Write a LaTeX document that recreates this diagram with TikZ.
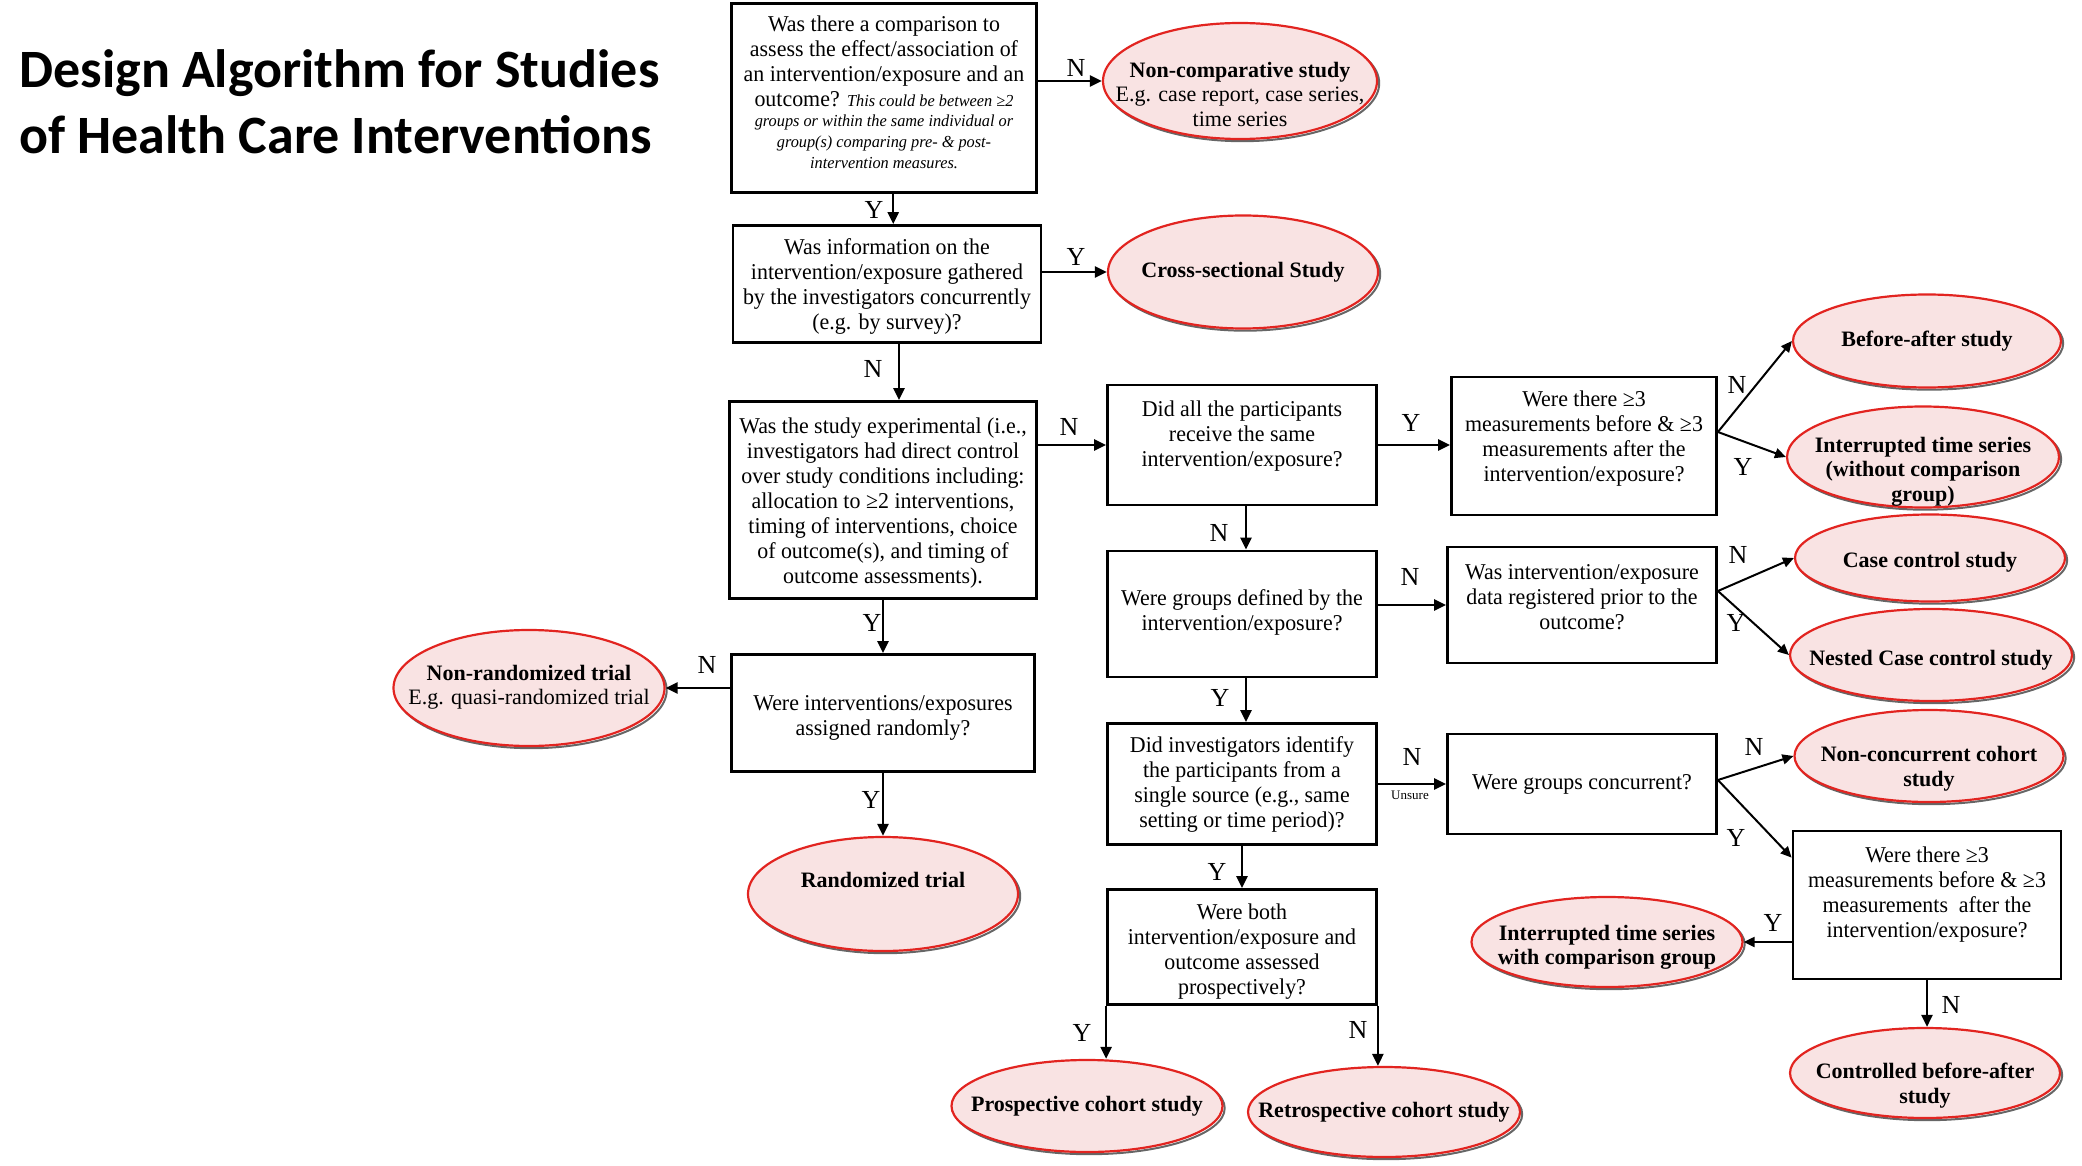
\documentclass[tikz,border=0pt]{standalone}
\usepackage{fontspec}
\setmainfont{Liberation Serif}
\newfontfamily\boxfont[FakeStretch=0.97]{Liberation Serif}
\newfontfamily\titlefont{Carlito}
\usetikzlibrary{shapes.geometric,shadows,arrows.meta}
\definecolor{ovalfill}{HTML}{F9E3E3}
\definecolor{ovalred}{HTML}{E22420}
\begin{document}
\begin{tikzpicture}[x=0.5pt,y=-0.5pt,
  qbox/.style={draw,line width=1.4pt,inner sep=0pt},
  qtext/.style={align=center,inner sep=0pt,font=\boxfont\fontsize{11.3}{12.5}\selectfont},
  oval/.style={ellipse,draw=ovalred,line width=1.1pt,fill=ovalfill,inner sep=0pt,
    drop shadow={shadow xshift=1.1pt,shadow yshift=-1.1pt,fill=none,
      draw=black!60,line width=1pt,opacity=1}},
  ovaltext/.style={align=center,inner sep=0pt,font=\fontsize{11}{12.3}\selectfont\bfseries},
  yn/.style={inner sep=0pt,font=\fontsize{13}{13}\selectfont},
  arr/.style={-{Triangle[length=6pt,width=5.5pt]},line width=1.2pt},
  thinarr/.style={-{Triangle[length=5.5pt,width=5pt]},line width=1pt}]
  \useasboundingbox (0,0) rectangle (2082,1166);
  % title
  \path (19,102) node[anchor=west,align=left,inner sep=0pt,
    font=\titlefont\bfseries\fontsize{27}{33}\selectfont] (title)
    {Design Algorithm for Studies\\of Health Care Interventions};
  % questions
  \path (884,98) node[qbox,minimum width=152.5pt,minimum height=94.5pt] (q1) {}
    node[qtext,yshift=3pt] (q1t)
    {Was there a comparison to\\ assess the effect/association of\\
     an intervention/exposure and an\\
     outcome? {\itshape\fontsize{8.4}{10}\selectfont This could be between ≥2}\\[-2.2pt]
     {\itshape\fontsize{8.4}{10}\selectfont groups or within the same individual or}\\[-2.2pt]
     {\itshape\fontsize{8.4}{10}\selectfont group(s) comparing pre- \& post-}\\[-2.2pt]
     {\itshape\fontsize{8.4}{10}\selectfont intervention measures.}};
  \path (887,284) node[qbox,minimum width=154pt,minimum height=58.5pt] (q2) {}
    node[qtext,yshift=-1.3pt] (q2t)
    {Was information on the\\ intervention/exposure gathered\\
     by the investigators concurrently\\ (e.g. by survey)?};
  \path (883,500) node[qbox,minimum width=153.5pt,minimum height=98.5pt] (q3) {}
    node[qtext,yshift=-1.3pt] (q3t)
    {Was the study experimental (i.e.,\\ investigators had direct control\\
     over study conditions including:\\ allocation to ≥2 interventions,\\
     timing of interventions, choice\\ of outcome(s), and timing of\\
     outcome assessments).};
  \path (883,713) node[qbox,minimum width=151.5pt,minimum height=58.5pt] (q7) {}
    node[qtext,yshift=-2.3pt] (q7t)
    {Were interventions/exposures\\ assigned randomly?};
  \path (1242,445) node[qbox,minimum width=134.5pt,minimum height=60pt] (q4) {}
    node[qtext,yshift=4.6pt] (q4t)
    {Did all the participants\\ receive the same\\ intervention/exposure?};
  \path (1242,614) node[qbox,minimum width=134.5pt,minimum height=63pt] (q5) {}
    node[qtext,yshift=1pt] (q5t)
    {Were groups defined by the\\ intervention/exposure?};
  \path (1242,784) node[qbox,minimum width=134.5pt,minimum height=60.5pt] (q6) {}
    node[qtext] (q6t)
    {Did investigators identify\\ the participants from a\\
     single source (e.g., same\\ setting or time period)?};
  \path (1242,947) node[qbox,minimum width=134.5pt,minimum height=57.5pt] (q8) {}
    node[qtext,yshift=-2.3pt] (q8t)
    {Were both\\ intervention/exposure and\\ outcome assessed\\ prospectively?};
  \path (1584,446) node[qbox,minimum width=132.5pt,minimum height=69pt] (q9) {}
    node[qtext,yshift=3.6pt] (q9t)
    {Were there ≥3\\ measurements before \& ≥3\\ measurements after the\\
     intervention/exposure?};
  \path (1582,605) node[qbox,minimum width=134.5pt,minimum height=58pt] (q10) {}
    node[qtext,yshift=4pt] (q10t)
    {Was intervention/exposure\\ data registered prior to the\\ outcome?};
  \path (1582,784) node[qbox,minimum width=134.5pt,minimum height=50pt] (q11) {}
    node[qtext] (q11t) {Were groups concurrent?};
  \path (1927,905) node[qbox,minimum width=134pt,minimum height=74pt] (q12) {}
    node[qtext,yshift=5pt] (q12t)
    {Were there ≥3\\ measurements before \& ≥3\\ measurements\ \ after the\\
     intervention/exposure?};
  % study designs
  \path (1240,81) node[oval,minimum width=137pt,minimum height=58pt] (nc) {}
    node[ovaltext,yshift=-6.6pt] (nct) {Non-comparative study\\
    {\mdseries E.g. case report, case series,}\\ {\mdseries time series}};
  \path (1243,272) node[oval,minimum width=135pt,minimum height=56.5pt] (cs) {}
    node[ovaltext] (cst) {Cross-sectional Study};
  \path (529,688) node[oval,minimum width=135.5pt,minimum height=58pt] (nr) {}
    node[ovaltext,yshift=0.4pt] (nrt) {Non-randomized trial\\
    {\mdseries E.g. quasi-randomized trial}};
  \path (883,894) node[oval,minimum width=135pt,minimum height=57pt] (rt) {}
    node[ovaltext,yshift=7pt] (rtt) {Randomized trial};
  \path (1927,341) node[oval,minimum width=134pt,minimum height=46.5pt] (ba) {}
    node[ovaltext] (bat) {Before-after study};
  \path (1923,457) node[oval,minimum width=136pt,minimum height=50.5pt] (its) {}
    node[ovaltext,yshift=-7.3pt] (itst) {Interrupted time series\\ (without comparison\\ group)};
  \path (1930,558) node[oval,minimum width=135pt,minimum height=43.5pt] (cc) {}
    node[ovaltext,yshift=-2pt] (cct) {Case control study};
  \path (1931,655) node[oval,minimum width=141pt,minimum height=46pt] (ncc) {}
    node[ovaltext,yshift=-2.7pt] (ncct) {Nested Case control study};
  \path (1929,756) node[oval,minimum width=134.5pt,minimum height=46pt] (ncon) {}
    node[ovaltext,yshift=-6.3pt] (ncont) {Non-concurrent cohort\\ study};
  \path (1607,942) node[oval,minimum width=135.5pt,minimum height=45pt] (itsc) {}
    node[ovaltext,yshift=-2.7pt] (itsct) {Interrupted time series\\ with comparison group};
  \path (1925,1073) node[oval,minimum width=135pt,minimum height=45pt] (cba) {}
    node[ovaltext,yshift=-6.3pt] (cbat) {Controlled before-after\\ study};
  \path (1087,1106) node[oval,minimum width=135.5pt,minimum height=46pt] (pc) {}
    node[ovaltext] (pct) {Prospective cohort study};
  \path (1384,1112) node[oval,minimum width=136pt,minimum height=45pt] (rc) {}
    node[ovaltext] (rct) {Retrospective cohort study};
  % connectors
  \draw[arr] (q1.east |- nc.west) -- (nc.west);
  \draw[arr] ([xshift=4.6pt]q1.south) -- ([xshift=4.6pt]q1.south |- q2.north);
  \draw[arr] (q2.east |- cs.west) -- (cs.west);
  \draw[arr] ([xshift=6pt]q2.south) -- ([xshift=6pt]q2.south |- q3.north);
  \draw[arr] (q3.east |- q4.west) -- (q4.west);
  \draw[arr] (q3.south) -- (q3.south |- q7.north);
  \draw[arr] (q7.west |- nr.east) -- (nr.east);
  \draw[arr] (q7.south) -- (q7.south |- rt.north);
  \draw[arr] (q4.east) -- (q4.east -| q9.west);
  \draw[arr] ([xshift=2pt]q4.south) -- ([xshift=2pt]q5.north);
  \draw[arr] (q5.east |- q10.west) -- (q10.west);
  \draw[arr] ([xshift=2pt]q5.south) -- ([xshift=2pt]q6.north);
  \draw[arr] (q6.east) -- (q6.east -| q11.west);
  \draw[arr] (q6.south) -- (q8.north);
  \draw[arr] (q8.south west) -- (q8.south west |- pc.north);
  \draw[arr] (q8.south east) -- (q8.south east |- rc.north);
  \draw[thinarr] ([yshift=7pt]q9.east) -- (ba.west);
  \draw[thinarr] ([yshift=7pt]q9.east) -- (its.west);
  \draw[thinarr] ([yshift=7pt]q10.east) -- (cc.west);
  \draw[thinarr] ([yshift=7pt]q10.east) -- (ncc.west);
  \draw[thinarr] ([yshift=2pt]q11.east) -- (ncon.west);
  \draw[thinarr] ([yshift=2pt]q11.east) -- ([yshift=-14pt]q12.north west);
  \draw[thinarr] (q12.west |- itsc.east) -- (itsc.east);
  \draw[arr] (q12.south) -- (q12.south |- cba.north);
  % Y/N labels
  \path (1076,68) node[yn] (l1) {N};
  \path (874,210) node[yn] (l2) {Y};
  \path (1076,257) node[yn] (l3) {Y};
  \path (873,369) node[yn] (l4) {N};
  \path (1069,427) node[yn] (l5) {N};
  \path (872,623) node[yn] (l6) {Y};
  \path (707,665) node[yn] (l7) {N};
  \path (871,800) node[yn] (l8) {Y};
  \path (1219,533) node[yn] (l9) {N};
  \path (1411,423) node[yn] (l10) {Y};
  \path (1737,385) node[yn] (l11) {N};
  \path (1743,467) node[yn] (l12) {Y};
  \path (1410,577) node[yn] (l13) {N};
  \path (1738,555) node[yn] (l14) {N};
  \path (1736,623) node[yn] (l15) {Y};
  \path (1220,698) node[yn] (l16) {Y};
  \path (1412,757) node[yn] (l17) {N};
  \path (1410,795) node[inner sep=0pt,font=\fontsize{6.5}{6.5}\selectfont] (l18) {Unsure};
  \path (1754,747) node[yn] (l19) {N};
  \path (1736,838) node[yn] (l20) {Y};
  \path (1773,923) node[yn] (l21) {Y};
  \path (1951,1005) node[yn] (l22) {N};
  \path (1217,872) node[yn] (l23) {Y};
  \path (1082,1033) node[yn] (l24) {Y};
  \path (1358,1030) node[yn] (l25) {N};
\end{tikzpicture}
\end{document}
